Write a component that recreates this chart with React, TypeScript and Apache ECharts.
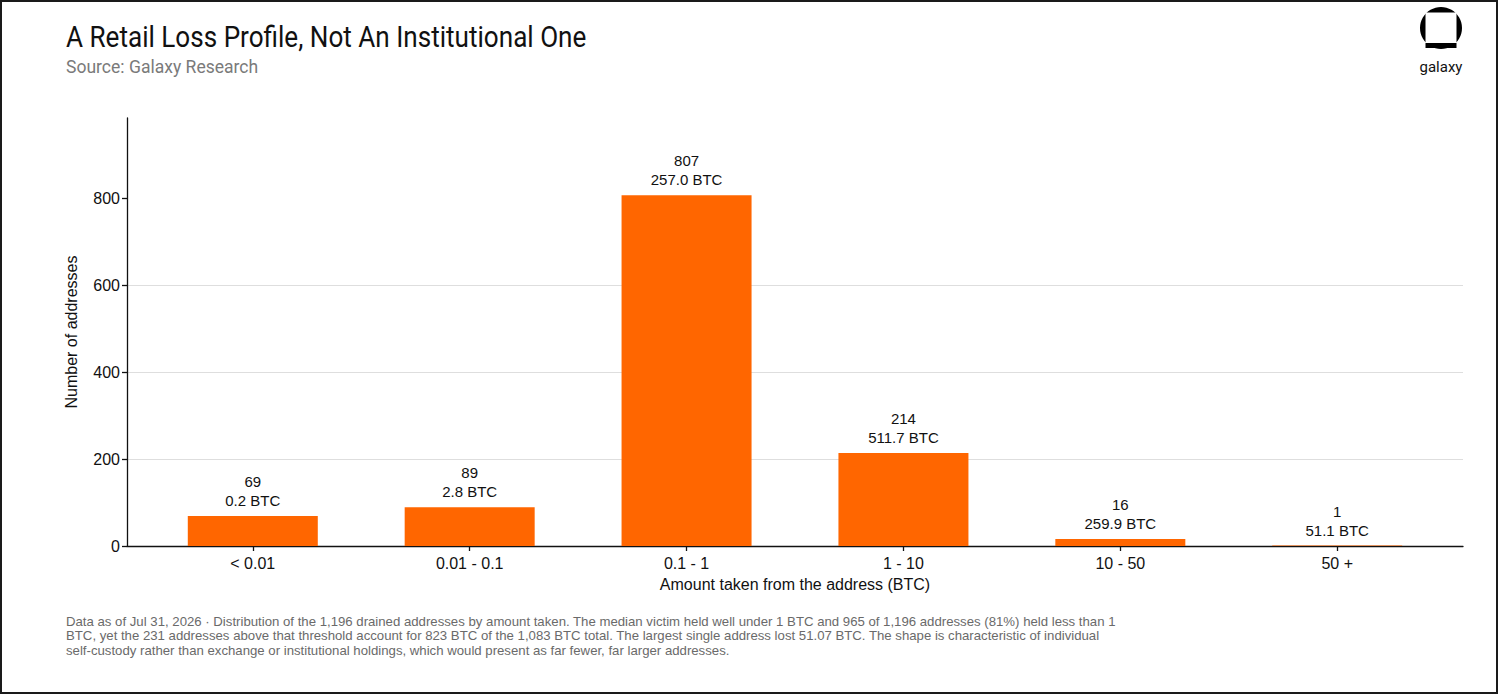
import React, { useEffect, useRef } from "react";
import * as echarts from "echarts";

const categories = ["< 0.01", "0.01 - 0.1", "0.1 - 1", "1 - 10", "10 - 50", "50 +"];
const addressCounts = [69, 89, 807, 214, 16, 1];
const btcTaken = [0.2, 2.8, 257.0, 511.7, 259.9, 51.1];
const yTicks = [0, 200, 400, 600, 800];

const titleText = "A Retail Loss Profile, Not An Institutional One";
const subtitleText = "Source: Galaxy Research";
const footnoteLines = [
  "Data as of Jul 31, 2026 · Distribution of the 1,196 drained addresses by amount taken. The median victim held well under 1 BTC and 965 of 1,196 addresses (81%) held less than 1",
  "BTC, yet the 231 addresses above that threshold account for 823 BTC of the 1,083 BTC total. The largest single address lost 51.07 BTC. The shape is characteristic of individual",
  "self-custody rather than exchange or institutional holdings, which would present as far fewer, far larger addresses.",
];

const ORANGE = "#FF6600";
const AXIS_FONT = "'Liberation Sans', Arial, sans-serif";

export default function App() {
  const ref = useRef<HTMLDivElement>(null);

  useEffect(() => {
    document.body.style.margin = "0";
    if (!ref.current) return;
    const chart = echarts.init(ref.current, undefined, { renderer: "svg" });
    const idx = categories.map((_, i) => i);

    chart.setOption({
      animation: false,
      backgroundColor: "#ffffff",
      textStyle: { fontFamily: AXIS_FONT },
      grid: { left: 127, right: 37, top: 118, bottom: 150, containLabel: false },
      xAxis: {
        type: "value",
        min: -0.58,
        max: 5.58,
        name: "Amount taken from the address (BTC)",
        nameLocation: "middle",
        nameGap: 30,
        nameTextStyle: { fontSize: 16, color: "#111", fontFamily: AXIS_FONT },
        axisLine: { show: true, onZero: false, lineStyle: { color: "#111", width: 1.3 } },
        axisTick: { show: true, customValues: idx, length: 5, lineStyle: { color: "#111", width: 1.3 } },
        axisLabel: {
          customValues: idx,
          formatter: (v: number) => categories[Math.round(v)] ?? "",
          fontSize: 16,
          color: "#111",
          margin: 9,
          fontFamily: AXIS_FONT,
        },
        splitLine: { show: false },
      },
      yAxis: {
        type: "value",
        min: 0,
        max: 985,
        name: "Number of addresses",
        nameLocation: "middle",
        nameGap: 48,
        nameTextStyle: { fontSize: 16, color: "#111", fontFamily: AXIS_FONT },
        axisLine: { show: true, onZero: false, lineStyle: { color: "#111", width: 1.3 } },
        axisTick: { show: true, customValues: yTicks, length: 5, lineStyle: { color: "#111", width: 1.3 } },
        axisLabel: { customValues: yTicks, fontSize: 16, color: "#111", margin: 7, fontFamily: AXIS_FONT },
        splitLine: { show: true, showMaxLine: false, lineStyle: { color: "#dedede", width: 1 } },
      },
      series: [
        {
          type: "bar",
          barWidth: 130,
          data: addressCounts.map((v, i) => [i, v]),
          itemStyle: { color: ORANGE },
          label: {
            show: true,
            position: "top",
            distance: 6,
            fontSize: 15,
            lineHeight: 19,
            color: "#111",
            fontFamily: AXIS_FONT,
            formatter: (p: any) => `${addressCounts[p.dataIndex]}\n${btcTaken[p.dataIndex].toFixed(1)} BTC`,
          },
        },
      ],
      graphic: [
        {
          type: "rect",
          shape: { x: 1, y: 1, width: 1496, height: 692 },
          style: { fill: "none", stroke: "#1a1a1a", lineWidth: 2 },
          silent: true,
        },
        {
          type: "text",
          x: 66,
          y: 37,
          scaleX: 0.9,
          style: {
            text: titleText,
            fontSize: 29,
            fontFamily: "Roboto, Inter, sans-serif",
            fill: "#111",
            verticalAlign: "middle",
            align: "left",
          },
        },
        {
          type: "text",
          x: 66,
          y: 67,
          scaleX: 0.975,
          style: {
            text: subtitleText,
            fontSize: 18,
            fontFamily: "Roboto, Inter, sans-serif",
            fill: "#7a7a7a",
            verticalAlign: "middle",
            align: "left",
          },
        },
        {
          type: "circle",
          shape: { cx: 1441, cy: 28, r: 21 },
          style: { fill: "#000" },
        },
        {
          type: "rect",
          shape: { x: 1425.5, y: 12.5, width: 31, height: 30.5 },
          style: { fill: "#fff" },
        },
        {
          type: "rect",
          shape: { x: 1425.5, y: 43, width: 31, height: 5 },
          style: { fill: "#000" },
        },
        {
          type: "text",
          x: 1441,
          y: 67,
          style: {
            text: "galaxy",
            fontSize: 15,
            fontFamily: "Roboto, Inter, sans-serif",
            fill: "#111",
            verticalAlign: "middle",
            align: "center",
          },
        },
        {
          type: "text",
          x: 66,
          y: 614,
          style: {
            text: footnoteLines.join("\n"),
            fontSize: 13.2,
            lineHeight: 14.5,
            fontFamily: AXIS_FONT,
            fill: "#6a6a6a",
            verticalAlign: "top",
            align: "left",
          },
        },
      ],
    });

    return () => chart.dispose();
  }, []);

  return (
    <div
      ref={ref}
      style={{ position: "fixed", left: 0, top: 0, width: 1500, height: 696, background: "#fff" }}
    />
  );
}
